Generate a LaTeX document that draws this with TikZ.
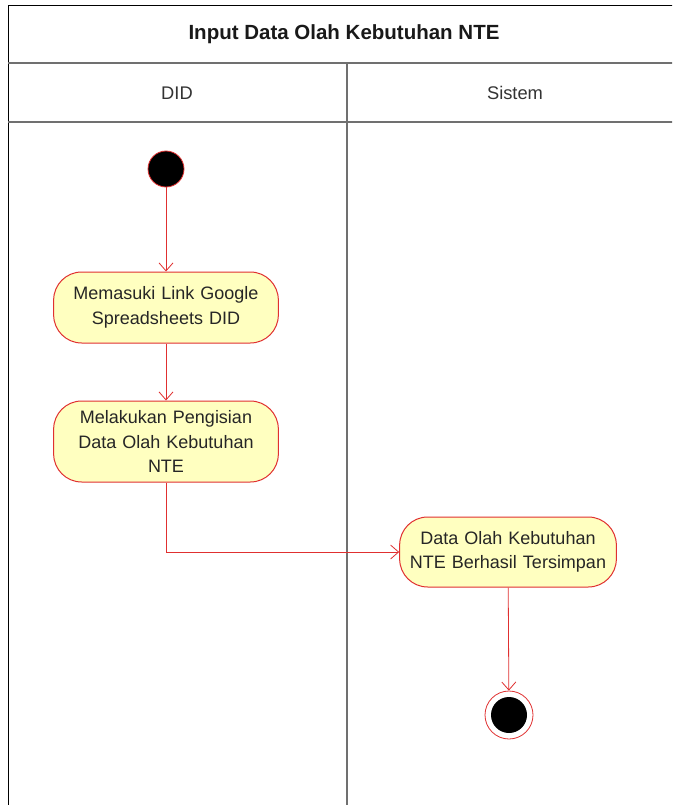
\documentclass[tikz,border=0pt]{standalone}
\usepackage{fontspec}
\setmainfont{Liberation Sans}
\usetikzlibrary{arrows.meta}
\definecolor{actfill}{HTML}{FFFFC0}
\definecolor{actline}{HTML}{E03030}
\definecolor{laneline}{HTML}{707070}
\begin{document}
\begin{tikzpicture}[x=1pt,y=-1pt,
  act/.style={draw=actline,fill=actfill,rounded corners=28pt,line width=1pt,
    minimum width=222pt,text width=218pt,align=center,font=\fontsize{18}{24.5}\selectfont,text=black!85},
  flow/.style={draw=actline,line width=0.8pt,-{Straight Barb[length=8pt,width=14pt]}},
  startdot/.style={circle,fill=black,draw=actline,line width=0.8pt,minimum size=36pt,inner sep=0pt},
  lanetxt/.style={font=\fontsize{18.3}{22}\selectfont,text=black!80}]
\useasboundingbox (0,0) rectangle (672,805);
\clip (0,0) rectangle (672,805);
\fill[white] (0,0) rectangle (672,805);
% frame
\draw[black,line width=1pt] (8,820) -- (8,6) -- (700,6);
\draw[laneline,line width=1.2pt] (8,63) -- (700,63);
\draw[laneline,line width=1.2pt] (8,122) -- (700,122);
\draw[laneline,line width=1.5pt] (347,63) -- (347,820);
\node[font=\bfseries\fontsize{20.5}{24}\selectfont,text=black!90] (title) at (344,34) {Input Data Olah Kebutuhan NTE};
\node[lanetxt] (lane1) at (177,93) {DID};
\node[lanetxt] (lane2) at (515,93) {Sistem};
% nodes
\node[startdot] (start) at (166,169) {};
\node[act,minimum height=71pt] (a1) at (166,307.5) {Memasuki Link Google\\Spreadsheets DID};
\node[act,minimum height=81pt] (a2) at (166,441.5) {Melakukan Pengisian\\Data Olah Kebutuhan\\NTE};
\node[act,minimum width=212pt,text width=210pt,minimum height=70pt] (a3) at (508,552) {Data Olah Kebutuhan\\NTE Berhasil Tersimpan};
\node[circle,draw=actline,fill=white,line width=0.8pt,minimum size=48pt,inner sep=0pt] (end) at (509,715) {};
\node[circle,fill=black,minimum size=36pt,inner sep=0pt] (enddot) at (end.center) {};
% connectors
\draw[flow] (start) -- (a1);
\draw[flow] (a1) -- (a2);
\draw[flow] (a2.south) |- (a3.west);
\draw[flow] (a3) -- (end);
\end{tikzpicture}
\end{document}
